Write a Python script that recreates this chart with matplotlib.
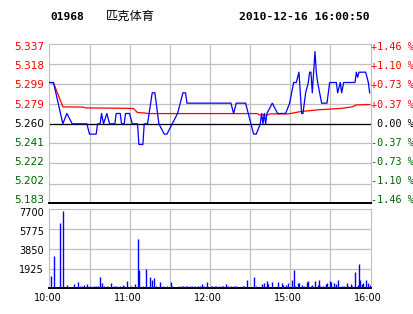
import matplotlib.pyplot as plt
from matplotlib import transforms

# minutes after 10:00 (HK session 10:00-12:30, 14:30-16:00 -> 240 min)
line_min = [0, 3, 10, 13, 17, 28, 30, 35, 36, 38,
            39, 40.5, 43, 45, 49, 50, 53, 54, 56, 57,
            60, 62, 66, 67, 70, 71, 73.5, 77, 79, 80,
            82, 86, 88, 96, 100, 102, 103, 136, 138, 140,
            147, 149, 153, 155, 158, 159, 160, 161, 162, 163,
            167, 171, 177, 180, 183, 185, 187, 189, 190, 192,
            194, 195, 196, 197, 198, 199, 200, 201, 204, 208,
            210, 215, 216, 218, 219, 220.5, 229, 230, 231, 232,
            237, 239, 240]
line_price = [5.30, 5.30, 5.26, 5.27, 5.26, 5.26, 5.25, 5.25, 5.26, 5.26,
              5.27, 5.26, 5.27, 5.26, 5.26, 5.27, 5.27, 5.26, 5.26, 5.27,
              5.27, 5.26, 5.26, 5.24, 5.24, 5.26, 5.26, 5.29, 5.29, 5.28,
              5.26, 5.25, 5.25, 5.27, 5.29, 5.29, 5.28, 5.28, 5.27, 5.28,
              5.28, 5.27, 5.25, 5.25, 5.26, 5.27, 5.26, 5.27, 5.26, 5.27,
              5.28, 5.27, 5.27, 5.28, 5.30, 5.30, 5.31, 5.27, 5.27, 5.29,
              5.30, 5.31, 5.31, 5.29, 5.31, 5.33, 5.31, 5.30, 5.28, 5.28,
              5.30, 5.30, 5.29, 5.30, 5.29, 5.30, 5.30, 5.31, 5.305, 5.31,
              5.31, 5.30, 5.29]

avg_min = [0, 3, 10, 25, 27, 59, 63, 66, 72, 74, 156, 157, 164, 165, 179,
           188, 201, 219, 227, 230, 240]
avg_price = [5.300, 5.2997, 5.2764, 5.2762, 5.2754, 5.2750, 5.2747, 5.2709,
             5.2704, 5.2699, 5.2699, 5.2687, 5.2687, 5.2696, 5.2696, 5.2718,
             5.2735, 5.2750, 5.2764, 5.2783, 5.2786]

vol_min = [1, 3, 8, 10, 13, 18, 21, 23, 24, 26, 28, 30, 33, 35, 36, 38, 39, 41, 43,
           46, 48, 50, 53, 55, 56, 58, 61, 64, 66, 67, 70, 72, 75, 77, 78, 80, 83,
           85, 88, 91, 92, 97, 99, 100, 102, 103, 105, 107, 109, 111, 113, 114,
           116, 118, 121, 122, 124, 125, 127, 129, 130, 132, 134, 136, 138, 140,
           145, 146, 148, 153, 155, 159, 161, 163, 164, 167, 171, 174, 175, 177,
           179, 182, 183, 184, 186, 187, 189, 191, 193, 194, 196, 197, 199, 201,
           202, 203, 205, 207, 208, 210, 211, 213, 215, 216, 219, 221, 223, 224,
           226, 227, 229, 231, 232, 233, 234, 235, 237, 239, 240]
vol_qty = [1200, 3150, 6370, 7540, 320, 420, 620, 260, 260, 360, 420, 230, 230, 230, 230, 1100, 520, 230, 230,
           520, 230, 230, 230, 320, 230, 720, 230, 420, 4810, 1790, 230, 1880, 1100, 810, 1010, 230, 620,
           230, 230, 620, 230, 230, 230, 230, 230, 230, 230, 230, 230, 230, 230, 420,
           230, 620, 230, 230, 230, 230, 230, 230, 230, 420, 230, 230, 230, 230,
           230, 230, 810, 1100, 230, 420, 520, 720, 420, 620, 620, 520, 320, 320,
           520, 810, 1790, 230, 520, 520, 320, 230, 620, 720, 230, 320, 720, 320,
           810, 230, 230, 420, 520, 720, 620, 520, 420, 810, 230, 230, 520, 230,
           420, 230, 1590, 320, 2370, 810, 420, 520, 810, 520, 320]

price_ticks = [5.337, 5.318, 5.299, 5.279, 5.260, 5.241, 5.222, 5.202, 5.183]
price_labels = ['5.337', '5.318', '5.299', '5.279', '5.260', '5.241', '5.222', '5.202', '5.183']
pct_labels = ['+1.46 %', '+1.10 %', '+0.73 %', '+0.37 %', '0.00 %',
              '-0.37 %', '-0.73 %', '-1.10 %', '-1.46 %']
vol_ticks = [7700, 5775, 3850, 1925]
time_ticks = [0, 60, 120, 180, 240]
time_labels = ['10:00', '11:00', '12:00', '15:00', '16:00']

W, H = 414, 314
fig = plt.figure(figsize=(W / 100, H / 100), dpi=100)
fig.patch.set_facecolor('white')


def box(l, t, r, b):
    return [l / W, 1 - b / H, (r - l) / W, (b - t) / H]


ax = fig.add_axes(box(49.5, 44.3, 371, 203.3))
axv = fig.add_axes(box(49.5, 209.3, 371, 288.3))

grid = '#c0c0c0'
red, green = '#ff0000', '#006400'

# ---- price panel ----
ax.set_xlim(0, 241)
ax.set_ylim(5.183, 5.337)
for p in price_ticks[1:-1]:
    ax.axhline(p, color=grid, lw=0.9, zorder=1)
for m in range(30, 240, 30):
    ax.axvline(m, color=grid, lw=0.9, zorder=1)
ax.axhline(5.260, color='black', lw=0.9, zorder=2)
ax.plot(avg_min, avg_price, color=red, lw=0.9, zorder=3)
ax.plot(line_min, line_price, color='#0000ff', lw=0.9, zorder=4)

for s in ['top', 'left', 'right']:
    ax.spines[s].set_color(grid)
ax.spines['bottom'].set_color('black')
ax.spines['bottom'].set_linewidth(1.4)
ax.tick_params(length=0, labelleft=False, labelbottom=False)

for i in range(9):
    y = 1 - (3 + i * 19.1) / 159
    c = red if i < 4 else ('black' if i == 4 else green)
    ax.text(-0.017, y, price_labels[i], transform=ax.transAxes, ha='right', va='center',
            fontsize=7.6, color=c, family='DejaVu Sans')
    ax.text(1.0, y, pct_labels[i] if i != 4 else ' 0.00 %', transform=ax.transAxes,
            ha='left', va='center', fontsize=7.3, color=c, family='DejaVu Sans Mono')

# ---- volume panel ----
axv.set_xlim(0, 241)
axv.set_ylim(0, 7700)
for v in vol_ticks[1:]:
    axv.axhline(v, color=grid, lw=0.9, zorder=1)
for m in range(30, 240, 30):
    axv.axvline(m, color=grid, lw=0.9, zorder=1)
axv.vlines(vol_min, 0, vol_qty, color='#0000ff', lw=1.0, zorder=3)
for s in ['top', 'left', 'right']:
    axv.spines[s].set_color(grid)
axv.spines['bottom'].set_color('black')
axv.spines['bottom'].set_linewidth(1.4)
axv.tick_params(length=0, labelleft=False, labelbottom=False)

for i, v in enumerate(vol_ticks):
    y = 1 - (4 + i * 18.9) / 79
    axv.text(-0.017, y, str(v), transform=axv.transAxes, ha='right', va='center',
             fontsize=7, color='black', family='DejaVu Sans')

tr = transforms.blended_transform_factory(axv.transData, axv.transAxes)
for m, lab in zip(time_ticks, time_labels):
    axv.text(m - 1.5, -0.125, lab, transform=tr, ha='center', va='center',
             fontsize=7, color='black', family='DejaVu Sans')

# ---- header ----
fig.text(50 / W, 1 - 16.5 / H, '01968', ha='left', va='center', fontsize=8.1,
         family='DejaVu Sans Mono', weight='bold')
fig.text(106 / W, 1 - 16.5 / H, '匹克体育', ha='left', va='center', fontsize=8.8,
         family=['Noto Sans CJK SC', 'DejaVu Sans'])
fig.text(370 / W, 1 - 16.5 / H, '2010-12-16 16:00:50', ha='right', va='center',
         fontsize=8.2, family='DejaVu Sans Mono', weight='bold')

fig.savefig('out.png', dpi=100)
